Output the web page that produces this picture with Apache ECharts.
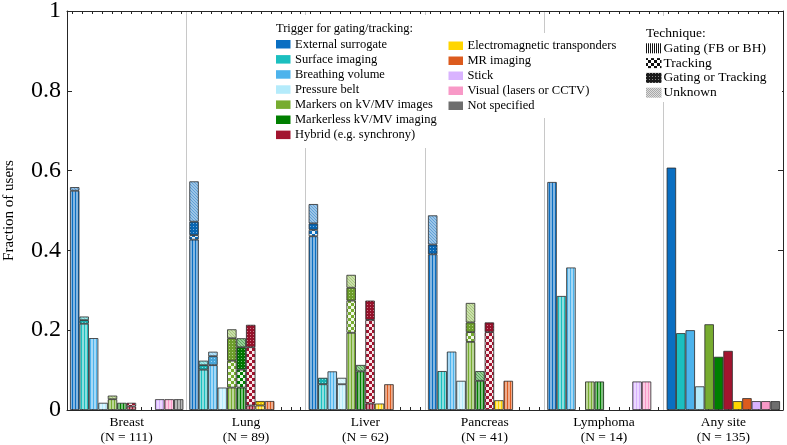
<!DOCTYPE html>
<html><head><meta charset="utf-8">
<script src="https://cdn.jsdelivr.net/npm/echarts@6/dist/echarts.min.js"></script>
<style>html,body{margin:0;padding:0;background:#fff}#c{width:787px;height:445px}</style>
</head><body><div id="c"></div>
<script>
// ---- data (counts of users; fraction = count / N) ----
const groupNames = ['Breast', 'Lung', 'Liver', 'Pancreas', 'Lymphoma', 'Any site'];
const groupN = [111, 89, 62, 41, 14, 135];
const triggers = ['External surrogate', 'Surface imaging', 'Breathing volume', 'Pressure belt',
  'Markers on kV/MV images', 'Markerless kV/MV imaging', 'Hybrid (e.g. synchrony)',
  'Electromagnetic transponders', 'MR imaging', 'Stick', 'Visual (lasers or CCTV)', 'Not specified'];
const techniques = ['Gating (FB or BH)', 'Tracking', 'Gating or Tracking', 'Unknown'];
// rows: Breast, Lung, Liver, Pancreas, Lymphoma ; columns: triggers
const gatingCounts = [
  [61, 24, 20, 2, 3, 2, 1, 0, 0, 3, 3, 3],
  [38, 9, 10, 5, 5, 5, 1, 1, 2, 0, 0, 0],
  [27, 4, 6, 4, 12, 6, 1, 1, 4, 0, 0, 0],
  [16, 4, 6, 3, 7, 3, 0, 1, 3, 0, 0, 0],
  [8, 4, 5, 0, 1, 1, 0, 0, 0, 1, 1, 0]
];
const trackingCounts = [
  [0, 0, 0, 0, 0, 0, 1, 0, 0, 0, 0, 0],
  [1, 0, 0, 0, 6, 4, 13, 0, 0, 0, 0, 0],
  [1, 0, 0, 0, 5, 0, 13, 0, 0, 0, 0, 0],
  [0, 0, 0, 0, 1, 0, 8, 0, 0, 0, 0, 0],
  [0, 0, 0, 0, 0, 0, 0, 0, 0, 0, 0, 0]
];
const gatingOrTrackingCounts = [
  [0, 1, 0, 0, 0, 0, 0, 0, 0, 0, 0, 0],
  [3, 1, 2, 0, 5, 5, 5, 1, 0, 0, 0, 0],
  [1, 1, 0, 0, 2, 0, 3, 0, 0, 0, 0, 0],
  [1, 0, 0, 0, 1, 0, 1, 0, 0, 0, 0, 0],
  [0, 0, 0, 0, 0, 0, 0, 0, 0, 0, 0, 0]
];
const unknownCounts = [
  [1, 1, 0, 0, 1, 0, 0, 0, 0, 0, 0, 0],
  [9, 1, 1, 0, 2, 2, 0, 0, 0, 0, 0, 0],
  [3, 0, 0, 1, 2, 1, 0, 0, 0, 0, 0, 0],
  [3, 0, 0, 0, 2, 1, 0, 0, 0, 0, 0, 0],
  [0, 0, 0, 0, 0, 0, 0, 0, 0, 0, 0, 0]
];
const anySiteCounts = [82, 26, 27, 8, 29, 18, 20, 3, 4, 3, 3, 3];
const yTickValues = [0, 0.2, 0.4, 0.6, 0.8, 1];

// ---- styling ----
const triggerColors = ['#0a6fc2', '#1bbfbf', '#4db3ec', '#b4ebfb', '#77ac30', '#007f00', '#a2142f',
  '#ffd500', '#dc5b1e', '#d9b3ff', '#f899c7', '#6e6e6e'];
const FONT = '"Liberation Serif", "Times New Roman", serif';

function rgb(h) { return [parseInt(h.substr(1, 2), 16), parseInt(h.substr(3, 2), 16), parseInt(h.substr(5, 2), 16)]; }
function mixW(h, t) { const c = rgb(h); return 'rgb(' + c.map(v => Math.round(v * (1 - t) + 255 * t)).join(',') + ')'; }
function shade(h, t) { const c = rgb(h); return 'rgb(' + c.map(v => Math.round(v * (1 - t))).join(',') + ')'; }
function canvasOf(w, h, draw) { const cv = document.createElement('canvas'); cv.width = w; cv.height = h; draw(cv.getContext('2d')); return cv; }
function pattern(kind, c) {
  let cv;
  if (kind === 0) cv = canvasOf(3, 3, x => { x.fillStyle = mixW(c, 0.5); x.fillRect(0, 0, 3, 3); x.fillStyle = c; x.fillRect(0, 0, 1, 3); });
  else if (kind === 1) cv = canvasOf(6, 6, x => { x.fillStyle = mixW(c, 0.9); x.fillRect(0, 0, 6, 6); x.fillStyle = c; x.fillRect(0, 0, 3, 3); x.fillRect(3, 3, 3, 3); });
  else if (kind === 2) cv = canvasOf(3, 3, x => { x.fillStyle = shade(c, 0.08); x.fillRect(0, 0, 3, 3); x.fillStyle = mixW(c, 0.45); x.fillRect(1, 1, 1, 1); });
  else cv = canvasOf(3, 3, x => { x.fillStyle = mixW(c, 0.6); x.fillRect(0, 0, 3, 3); x.fillStyle = mixW(c, 0.35); x.fillRect(0, 0, 1, 1); x.fillRect(1, 1, 1, 1); x.fillRect(2, 2, 1, 1); });
  return { image: cv, repeat: 'repeat' };
}
function iconPattern(kind) {
  let cv;
  if (kind === 0) cv = canvasOf(2, 2, x => { x.fillStyle = '#fff'; x.fillRect(0, 0, 2, 2); x.fillStyle = '#111'; x.fillRect(0, 0, 1, 2); });
  else if (kind === 1) cv = canvasOf(6, 6, x => { x.fillStyle = '#fff'; x.fillRect(0, 0, 6, 6); x.fillStyle = '#111'; x.fillRect(0, 0, 3, 3); x.fillRect(3, 3, 3, 3); });
  else if (kind === 2) cv = canvasOf(3, 3, x => { x.fillStyle = '#1a1a1a'; x.fillRect(0, 0, 3, 3); x.fillStyle = '#888'; x.fillRect(1, 1, 1, 1); });
  else cv = canvasOf(2, 2, x => { x.fillStyle = '#ddd'; x.fillRect(0, 0, 2, 2); x.fillStyle = '#a8a8a8'; x.fillRect(0, 0, 1, 1); x.fillRect(1, 1, 1, 1); });
  return { image: cv, repeat: 'repeat' };
}

const techniqueCounts = [gatingCounts, trackingCounts, gatingOrTrackingCounts, unknownCounts];
const barSlots = [];
groupNames.forEach(g => triggers.forEach(t => barSlots.push(g + ' | ' + t)));

const series = [];
triggers.forEach((tName, t) => {
  techniqueCounts.forEach((counts, k) => {
    series.push({
      type: 'bar', name: tName + ' - ' + techniques[k], stack: 's' + t,
      barGap: '0%', barCategoryGap: '5%', silent: true,
      itemStyle: { color: pattern(k, triggerColors[t]), borderColor: '#2a2a2a', borderWidth: 0.8 },
      data: groupNames.map((g, gi) => (gi < 5 && counts[gi][t] > 0) ? counts[gi][t] / groupN[gi] : '-')
    });
  });
  series.push({
    type: 'bar', name: tName + ' - all', stack: 's' + t,
    barGap: '0%', barCategoryGap: '5%', silent: true,
    itemStyle: { color: triggerColors[t], borderColor: '#2a2a2a', borderWidth: 0.8 },
    data: groupNames.map((g, gi) => gi === 5 ? anySiteCounts[t] / groupN[gi] : '-')
  });
});

// ---- legends as graphic elements ----
const graphic = [];
graphic.push({ type: 'rect', z: 100, shape: { x: 270, y: 15, width: 176, height: 133 }, style: { fill: '#fff' } });
graphic.push({ type: 'rect', z: 100, shape: { x: 444, y: 33, width: 168, height: 85 }, style: { fill: '#fff' } });
graphic.push({ type: 'rect', z: 100, shape: { x: 640, y: 16, width: 142, height: 86 }, style: { fill: '#fff' } });
function txt(s, x, y, size) {
  return { type: 'text', z: 101, x: x, y: y, style: { text: s, fill: '#000', font: size + 'px ' + FONT, verticalAlign: 'middle', textVerticalAlign: 'middle', align: 'left' } };
}
graphic.push(txt('Trigger for gating/tracking:', 276, 29, 12.5));
triggers.forEach((tName, i) => {
  const col2 = i >= 7;
  const yc = col2 ? 46 + (i - 7) * 15 : 44.5 + i * 15.1;
  const xs = col2 ? 448.5 : 276;
  graphic.push({ type: 'rect', z: 101, shape: { x: xs, y: yc - 4.5, width: 14.5, height: 8.5 }, style: { fill: triggerColors[i] } });
  graphic.push(txt(tName, xs + 19, yc, 12.5));
});
graphic.push(txt('Technique:', 646, 33, 13.5));
techniques.forEach((name, k) => {
  const yc = 48.3 + k * 14.8;
  graphic.push({ type: 'rect', z: 101, shape: { x: 646, y: yc - 5, width: 15.5, height: 10 }, style: { fill: iconPattern(k) } });
  graphic.push(txt(name, 663.5, yc, 13.5));
});

const axisColor = '#262626';
const option = {
  animation: false,
  grid: { left: 67, right: 4, top: 11, bottom: 35, containLabel: false, outerBoundsMode: 'none' },
  xAxis: [
    {
      type: 'category', data: groupNames, position: 'bottom',
      axisLine: { show: true, lineStyle: { color: axisColor, width: 1 } },
      axisTick: { show: false },
      axisLabel: { fontFamily: FONT, fontSize: 13.5, color: '#000', lineHeight: 15, margin: 5, interval: 0,
        formatter: (v, i) => v + '\n(N = ' + groupN[i] + ')' },
      splitLine: { show: true, lineStyle: { color: '#c8c8c8', width: 1 } }
    },
    {
      type: 'category', data: barSlots, position: 'bottom',
      axisLine: { show: false },
      axisTick: { show: true, inside: true, length: 3, alignWithLabel: true, interval: 0, lineStyle: { color: axisColor } },
      axisLabel: { show: false }, splitLine: { show: false }
    },
    {
      type: 'category', data: barSlots, position: 'top',
      axisLine: { show: true, lineStyle: { color: axisColor, width: 1 } },
      axisTick: { show: true, inside: true, length: 3, alignWithLabel: true, interval: 0, lineStyle: { color: axisColor } },
      axisLabel: { show: false }, splitLine: { show: false }
    }
  ],
  yAxis: [
    {
      type: 'value', min: yTickValues[0], max: yTickValues[yTickValues.length - 1], interval: 0.2,
      name: 'Fraction of users', nameLocation: 'middle', nameGap: 50, nameRotate: 90,
      nameTextStyle: { fontFamily: FONT, fontSize: 15, color: '#000' },
      axisLine: { show: true, lineStyle: { color: axisColor, width: 1 } },
      axisTick: { show: true, inside: true, length: 5, lineStyle: { color: axisColor } },
      axisLabel: { fontFamily: FONT, fontSize: 24, color: '#000', margin: 6 },
      splitLine: { show: false }
    },
    {
      type: 'value', position: 'right', min: 0, max: 1, interval: 0.2,
      axisLine: { show: true, lineStyle: { color: axisColor, width: 1 } },
      axisTick: { show: true, inside: true, length: 5, lineStyle: { color: axisColor } },
      axisLabel: { show: false }, splitLine: { show: false }
    }
  ],
  series: series,
  graphic: graphic
};
const chart = echarts.init(document.getElementById('c'), null, { renderer: 'canvas' });
chart.setOption(option);
</script>
</body></html>
